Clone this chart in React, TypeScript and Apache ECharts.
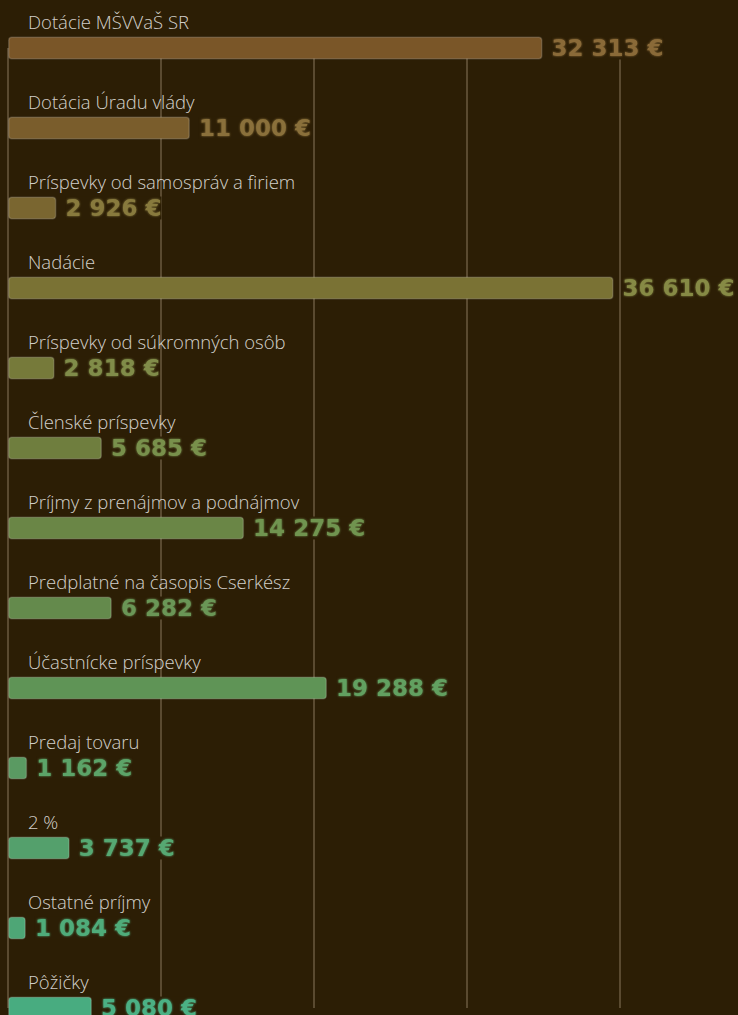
import React, { useEffect, useRef } from "react";
import * as echarts from "echarts";

const categories = [
  "Dotácie MŠVVaŠ SR",
  "Dotácia Úradu vlády",
  "Príspevky od samospráv a firiem",
  "Nadácie",
  "Príspevky od súkromných osôb",
  "Členské príspevky",
  "Príjmy z prenájmov a podnájmov",
  "Predplatné na časopis Cserkész",
  "Účastnícke príspevky",
  "Predaj tovaru",
  "2 %",
  "Ostatné príjmy",
  "Pôžičky",
];

const values = [32313, 11000, 2926, 36610, 2818, 5685, 14275, 6282, 19288, 1162, 3737, 1084, 5080];

const axisMax = 37000;
const axisInterval = 9250;

const barColors = [
  "#7a5628",
  "#7a5d2c",
  "#7a6630",
  "#7a7234",
  "#767a3a",
  "#6f7e3e",
  "#6a8646",
  "#648a4c",
  "#5f9456",
  "#5a9a62",
  "#54a06c",
  "#4ea676",
  "#48ac80",
];

const labelColors = [
  "#8a6a38",
  "#8a703a",
  "#887a3e",
  "#868a44",
  "#808c48",
  "#78904c",
  "#709450",
  "#6a9656",
  "#62a060",
  "#5ca468",
  "#56a872",
  "#50ac7a",
  "#4cb084",
];

const BG = "#2c1e05";

function fmt(v: number): string {
  return String(v).replace(/\B(?=(\d{3})+(?!\d))/g, " ") + " €";
}

export default function App() {
  const ref = useRef<HTMLDivElement>(null);
  useEffect(() => {
    document.body.style.margin = "0";
    document.body.style.background = BG;
    if (!ref.current) return;
    const chart = echarts.init(ref.current, undefined, { renderer: "svg" });
    chart.setOption({
      animation: false,
      backgroundColor: BG,
      grid: { left: 8, top: 48, width: 612, height: 960 },
      xAxis: {
        type: "value",
        min: 0,
        max: axisMax,
        interval: axisInterval,
        axisLabel: { show: false },
        axisLine: { show: false },
        axisTick: { show: false },
        splitLine: { show: true, lineStyle: { color: "#5a4a30", width: 2 } },
      },
      yAxis: {
        type: "category",
        data: categories,
        inverse: true,
        boundaryGap: false,
        axisLine: { show: false },
        axisTick: { show: false },
        splitLine: { show: false },
        axisLabel: { show: false },
      },
      series: [
        {
          type: "bar",
          barWidth: 23,
          z: 2,
          data: values.map((v, i) => ({
            value: v,
            itemStyle: {
              color: barColors[i],
              borderColor: "rgba(255,255,255,0.16)",
              borderWidth: 1.5,
              borderRadius: 3,
            },
            label: {
              color: labelColors[i],
              textShadowColor: labelColors[i],
            },
          })),
          label: {
            show: true,
            position: "right",
            distance: 9,
            formatter: (p: any) => fmt(p.value),
            fontFamily: "DejaVu Sans",
            fontWeight: "bold",
            fontSize: 23,
            backgroundColor: BG,
            textShadowBlur: 2,
          },
        },
        {
          type: "scatter",
          symbolSize: 0,
          silent: true,
          z: 5,
          data: categories.map((c) => [0, c]),
          label: {
            show: true,
            position: "inside",
            align: "left",
            verticalAlign: "middle",
            offset: [20, -27],
            formatter: (p: any) => p.value[1],
            color: "#ffffff",
            fontFamily: "Open Sans",
            fontWeight: 300,
            fontSize: 18.5,
          },
        },
      ],
    });
    return () => chart.dispose();
  }, []);
  return <div ref={ref} style={{ width: 738, height: 1015 }} />;
}
